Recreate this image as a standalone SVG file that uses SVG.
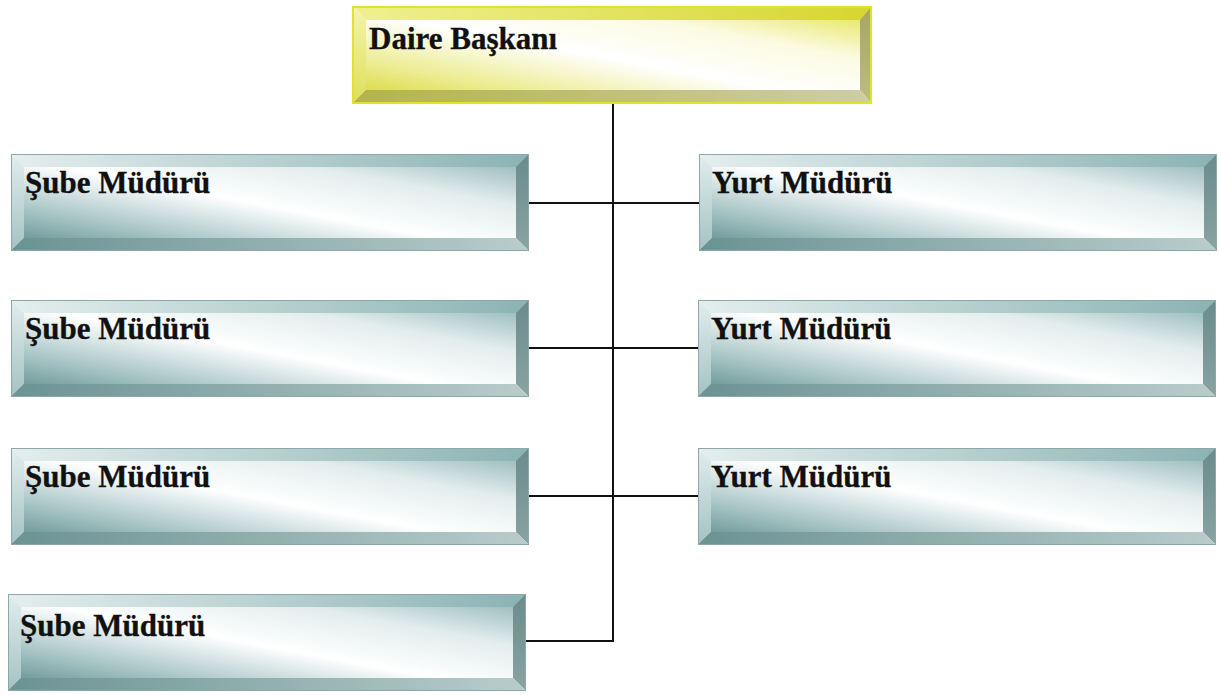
<svg xmlns="http://www.w3.org/2000/svg" xmlns:xlink="http://www.w3.org/1999/xlink" width="1219" height="695" viewBox="0 0 1219 695">
<style>
.lbl{font-family:"Liberation Serif","Times New Roman",serif;font-weight:bold;font-size:31px;fill:#111;stroke:#111;stroke-width:0.3;}
.conn{stroke:#111;stroke-width:2;fill:none;}
</style>
<defs>
<linearGradient id="tFace" x1="0" y1="1" x2="1" y2="0">
<stop offset="0" stop-color="#588788"/><stop offset="0.22" stop-color="#a4c2c3"/><stop offset="0.48" stop-color="#ffffff"/><stop offset="0.72" stop-color="#e3eded"/><stop offset="1" stop-color="#86adae"/>
</linearGradient>
<linearGradient id="tTop" x1="0" y1="0" x2="1" y2="0"><stop offset="0" stop-color="#e4eeee"/><stop offset="1" stop-color="#8bb3b4"/></linearGradient>
<linearGradient id="tLeft" x1="0" y1="0" x2="0" y2="1"><stop offset="0" stop-color="#e2eded"/><stop offset="1" stop-color="#a4c2c2"/></linearGradient>
<linearGradient id="tRight" x1="0" y1="0" x2="0" y2="1"><stop offset="0" stop-color="#6a8b8c"/><stop offset="1" stop-color="#8aa3a3"/></linearGradient>
<linearGradient id="tBot" x1="0" y1="0" x2="1" y2="0"><stop offset="0" stop-color="#6b9394"/><stop offset="1" stop-color="#b9cccc"/></linearGradient>
<linearGradient id="yFace" x1="0" y1="1" x2="1" y2="0">
<stop offset="0" stop-color="#d4d42e"/><stop offset="0.22" stop-color="#ecec90"/><stop offset="0.48" stop-color="#ffffff"/><stop offset="0.72" stop-color="#fbfbe2"/><stop offset="1" stop-color="#e2e244"/>
</linearGradient>
<linearGradient id="yTop" x1="0" y1="0" x2="1" y2="0"><stop offset="0" stop-color="#f0f090"/><stop offset="1" stop-color="#d6d630"/></linearGradient>
<linearGradient id="yLeft" x1="0" y1="0" x2="0" y2="1"><stop offset="0" stop-color="#f4f4a8"/><stop offset="1" stop-color="#dede60"/></linearGradient>
<linearGradient id="yRight" x1="0" y1="0" x2="0" y2="1"><stop offset="0" stop-color="#a6a66a"/><stop offset="1" stop-color="#bcbc84"/></linearGradient>
<linearGradient id="yBot" x1="0" y1="0" x2="1" y2="0"><stop offset="0" stop-color="#b4b44a"/><stop offset="1" stop-color="#cdcda8"/></linearGradient>
<g id="tealBox">
<rect x="0" y="0" width="518" height="97" fill="url(#tFace)"/>
<polygon points="0,0 518,0 505,13 13,13" fill="url(#tTop)"/>
<polygon points="0,0 13,13 13,84 0,97" fill="url(#tLeft)"/>
<polygon points="518,0 518,97 505,84 505,13" fill="url(#tRight)"/>
<polygon points="0,97 13,84 505,84 518,97" fill="url(#tBot)"/>
<rect x="0.5" y="0.5" width="517" height="96" fill="none" stroke="#8ea8a8" stroke-width="1"/>
</g>
<g id="yellowBox">
<rect x="0" y="0" width="518" height="96" fill="url(#yFace)"/>
<polygon points="0,0 518,0 507,13 13,13" fill="url(#yTop)"/>
<polygon points="0,0 13,13 13,83 0,96" fill="url(#yLeft)"/>
<polygon points="518,0 518,96 507,83 507,13" fill="url(#yRight)"/>
<polygon points="0,96 13,83 507,83 518,96" fill="url(#yBot)"/>
<rect x="0" y="0" width="518" height="96" fill="none" stroke="#e2e22a" stroke-width="2"/>
</g>
</defs>
<rect width="1219" height="695" fill="#ffffff"/>
<g id="connectors">
<line class="conn" x1="613" y1="103" x2="613" y2="641"/>
<line class="conn" x1="528" y1="203" x2="699" y2="203"/>
<line class="conn" x1="528" y1="348" x2="698" y2="348"/>
<line class="conn" x1="528" y1="496" x2="698" y2="496"/>
<line class="conn" x1="525" y1="641" x2="614" y2="641"/>
</g>
<g id="daire">
<use xlink:href="#yellowBox" transform="translate(353,7)"/>
<text class="lbl" x="369" y="49">Daire Başkanı</text>
</g>
<g id="sube1">
<use xlink:href="#tealBox" transform="translate(11,154)"/>
<text class="lbl" x="25" y="193">Şube Müdürü</text>
</g>
<g id="sube2">
<use xlink:href="#tealBox" transform="translate(11,300)"/>
<text class="lbl" x="25" y="339">Şube Müdürü</text>
</g>
<g id="sube3">
<use xlink:href="#tealBox" transform="translate(11,448)"/>
<text class="lbl" x="25" y="487">Şube Müdürü</text>
</g>
<g id="sube4">
<use xlink:href="#tealBox" transform="translate(8,594)"/>
<text class="lbl" x="20" y="636">Şube Müdürü</text>
</g>
<g id="yurt1">
<use xlink:href="#tealBox" transform="translate(699,154)"/>
<text class="lbl" x="712" y="193">Yurt Müdürü</text>
</g>
<g id="yurt2">
<use xlink:href="#tealBox" transform="translate(698,300)"/>
<text class="lbl" x="711" y="339">Yurt Müdürü</text>
</g>
<g id="yurt3">
<use xlink:href="#tealBox" transform="translate(698,448)"/>
<text class="lbl" x="711" y="487">Yurt Müdürü</text>
</g>
</svg>
